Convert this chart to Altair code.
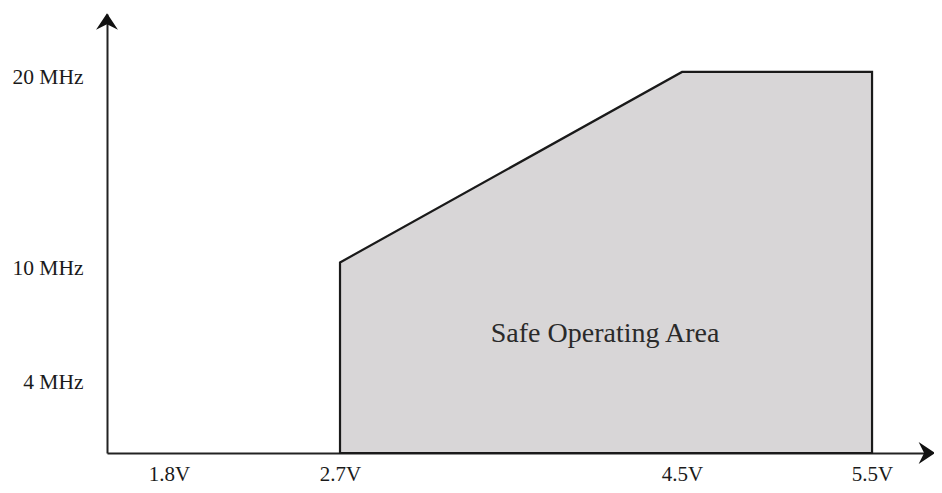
import altair as alt
import pandas as pd

# Safe operating area outline (voltage in V, frequency in MHz)
volts = [2.7, 4.5, 5.5]
mhz = [10, 20, 20]

x_ticks = [1.8, 2.7, 4.5, 5.5]
y_ticks = [4, 10, 20]

X_DOM = [1.4737, 5.805]
Y_DOM = [0, 23.04]

xs = alt.Scale(domain=X_DOM, nice=False, zero=False)
ys = alt.Scale(domain=Y_DOM, nice=False, zero=False)

area_df = pd.DataFrame({"v": volts, "f": mhz})

area = alt.Chart(area_df).mark_area(
    fill="#d8d6d7", stroke="#1a1a1a", strokeWidth=2.2, opacity=1
).encode(
    x=alt.X("v:Q", scale=xs, axis=alt.Axis(
        values=x_ticks, labelExpr="format(datum.value, '.1f') + 'V'",
        title=None, grid=False, ticks=False, domainColor="#222222", domainWidth=2,
        labelFont="Liberation Serif", labelFontSize=21, labelColor="#1a1a1a",
        labelPadding=10, labelFlush=False)),
    y=alt.Y("f:Q", scale=ys, axis=alt.Axis(
        values=y_ticks, labelExpr="datum.value + ' MHz'",
        title=None, grid=False, ticks=False, domainColor="#222222", domainWidth=2,
        labelFont="Liberation Serif", labelFontSize=21.5, labelColor="#1a1a1a",
        labelPadding=24, labelOffset=6, labelFlush=False)),
    y2=alt.datum(0),
)

label_df = pd.DataFrame({"v": [4.095], "f": [5.8], "t": ["Safe Operating Area"]})
label = alt.Chart(label_df).mark_text(
    font="Liberation Serif", fontSize=28, color="#2a2a2a", baseline="alphabetic",
    align="center"
).encode(x=alt.X("v:Q", scale=xs), y=alt.Y("f:Q", scale=ys), text="t:N")

arrow_shape = "M0,-1 L1,0.5 L0,0 L-1,0.5 Z"
arrow_df = pd.DataFrame({"v": [1.4737, 5.774], "f": [22.5, 0.0], "a": [0, 90]})
arrows = alt.Chart(arrow_df).mark_point(
    shape=arrow_shape, filled=True, color="#111111", size=480, opacity=1
).encode(
    x=alt.X("v:Q", scale=xs), y=alt.Y("f:Q", scale=ys),
    angle=alt.Angle("a:Q", scale=None)
)

chart = alt.layer(area, label, arrows).properties(
    width=823, height=439,
    autosize=alt.AutoSizeParams(type="none"),
    padding={"left": 99, "top": 6, "right": 4, "bottom": 32},
    background="white",
).configure_view(stroke=None)

chart.save("out.html", embed_options={"renderer": "svg", "actions": False})
